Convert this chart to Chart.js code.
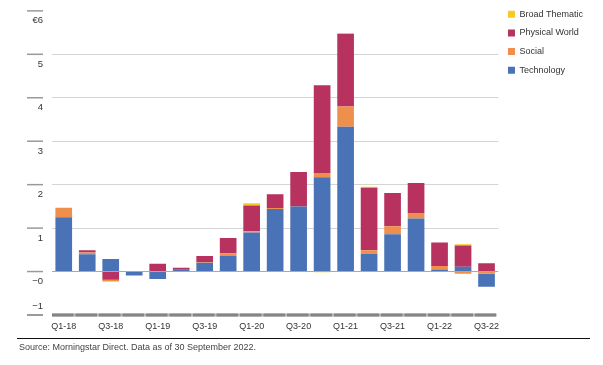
<!DOCTYPE html>
<html>
<head>
<meta charset="utf-8">
<script src="https://cdn.jsdelivr.net/npm/chart.js@4.4.0/dist/chart.umd.min.js"></script>
<style>
  body { margin: 0; background: #fff; }
  #wrap { position: relative; width: 603px; height: 365px; }
  #source {
    position: absolute; left: 17px; top: 338px; width: 571px;
    border-top: 1.5px solid #111;
    font: 9px "Liberation Sans", Arial, sans-serif; color: #444;
    padding-top: 3px; padding-left: 2px;
  }
</style>
</head>
<body>
<div id="wrap">
  <canvas id="myChart" width="603" height="365"></canvas>
  <div id="source">Source: Morningstar Direct. Data as of 30 September 2022.</div>
</div>
<script>
var quarters = ['Q1-18', 'Q2-18', 'Q3-18', 'Q4-18', 'Q1-19', 'Q2-19', 'Q3-19', 'Q4-19',
    'Q1-20', 'Q2-20', 'Q3-20', 'Q4-20', 'Q1-21', 'Q2-21', 'Q3-21', 'Q4-21',
    'Q1-22', 'Q2-22', 'Q3-22'];

var technology = [1.25, 0.40, 0.29, -0.09, -0.17, 0.04, 0.20, 0.36, 0.90, 1.44, 1.50, 2.17, 3.33, 0.41, 0.86, 1.22, 0.05, 0.11, -0.30];
var social     = [0.22, 0.04, -0.04, 0, 0, 0, 0.02, 0.06, 0.03, 0.02, 0, 0.10, 0.47, 0.08, 0.18, 0.13, 0.08, -0.05, -0.05];
var physical   = [0, 0.05, -0.19, 0, 0.18, 0.05, 0.14, 0.35, 0.59, 0.32, 0.79, 2.02, 1.67, 1.44, 0.77, 0.69, 0.54, 0.49, 0.19];
var broad      = [0, 0, 0, 0, 0, 0, 0, 0, 0.05, 0, 0, -0.015, 0.02, 0.02, 0, 0, 0, 0.03, 0];

var yTicks = [6, 5, 4, 3, 2, 1, 0, -1];
var yTickLabels = ['€6', '5', '4', '3', '2', '1', '−0', '−1'];

var colors = {
    tech: '#4a72b6',
    social: '#ef8f4c',
    physical: '#b7325e',
    broad: '#f6c927'
};

var fontFamily = '"Liberation Sans", Arial, sans-serif';

function pos(arr) { return arr.map(function (v) { return v > 0 ? v : 0; }); }
function neg(arr) { return arr.map(function (v) { return v < 0 ? v : 0; }); }

// positives stack Tech -> Social -> Physical -> Broad upward,
// negatives stack Broad -> Physical -> Social -> Tech downward (as in the source)
var datasets = [
    { label: 'Technology', data: pos(technology), backgroundColor: colors.tech },
    { label: 'Social', data: pos(social), backgroundColor: colors.social },
    { label: 'Physical World', data: pos(physical), backgroundColor: colors.physical },
    { label: 'Broad Thematic', data: pos(broad), backgroundColor: colors.broad },
    { label: 'Broad Thematic', data: neg(broad), backgroundColor: colors.broad },
    { label: 'Physical World', data: neg(physical), backgroundColor: colors.physical },
    { label: 'Social', data: neg(social), backgroundColor: colors.social },
    { label: 'Technology', data: neg(technology), backgroundColor: colors.tech }
];

// y labels sit below their gridline, tick marks are detached on the left
var yAxisDecor = {
    id: 'yAxisDecor',
    afterDraw: function (chart) {
        var ctx = chart.ctx;
        var y = chart.scales.y;
        var area = chart.chartArea;
        ctx.save();
        // bottom axis bar
        var yb = y.getPixelForValue(-1);
        ctx.lineWidth = 3;
        ctx.strokeStyle = '#b4b4b4';
        ctx.beginPath(); ctx.moveTo(area.left, yb); ctx.lineTo(area.right - 2, yb); ctx.stroke();
        ctx.setLineDash([21.5, 2]);
        ctx.strokeStyle = '#858585';
        ctx.beginPath(); ctx.moveTo(area.left, yb); ctx.lineTo(area.right - 2, yb); ctx.stroke();
        ctx.setLineDash([]);

        ctx.font = '9.5px ' + fontFamily;
        ctx.fillStyle = '#333';
        ctx.textAlign = 'right';
        ctx.textBaseline = 'middle';
        yTicks.forEach(function (v, i) {
            var py = y.getPixelForValue(v);
            ctx.strokeStyle = '#9a9a9a';
            ctx.lineWidth = v === -1 ? 2 : 1.5;
            ctx.beginPath(); ctx.moveTo(27, py); ctx.lineTo(43, py); ctx.stroke();
            var ly = v === -1 ? py - 9 : py + 10;
            ctx.fillText(yTickLabels[i], 43, ly);
        });
        ctx.restore();
    }
};

var ctx = document.getElementById('myChart').getContext('2d');
var chart = new Chart(ctx, {
    type: 'bar',
    data: {
        labels: quarters,
        datasets: datasets
    },
    options: {
        responsive: false,
        animation: false,
        devicePixelRatio: 1,
        layout: { padding: { top: 0, right: 10, bottom: 0, left: 0 } },
        datasets: {
            bar: { categoryPercentage: 1, barPercentage: 0.71, borderWidth: 0 }
        },
        scales: {
            x: {
                stacked: true,
                grid: { display: false, drawTicks: false },
                border: { display: false },
                ticks: {
                    autoSkip: false,
                    maxRotation: 0,
                    padding: 6,
                    color: '#333',
                    font: { family: fontFamily, size: 9 },
                    callback: function (val, i) { return i % 2 === 0 ? quarters[i] : ''; }
                },
                afterFit: function (s) { s.height = 50; }
            },
            y: {
                stacked: true,
                min: -1,
                max: 6.25,
                ticks: { stepSize: 1, display: false },
                border: { display: false },
                grid: {
                    drawTicks: false,
                    lineWidth: 1,
                    color: function (c) {
                        var v = c.tick.value;
                        if (v === 0) return '#a9a9a9';
                        if (v === -1 || v > 6) return 'rgba(0,0,0,0)';
                        return '#d4d4d4';
                    }
                },
                afterFit: function (s) { s.width = 52; }
            }
        },
        plugins: {
            tooltip: { enabled: false },
            legend: {
                position: 'right',
                align: 'start',
                labels: {
                    boxWidth: 7,
                    boxHeight: 7,
                    padding: 9.7,
                    color: '#333',
                    font: { family: fontFamily, size: 9 },
                    filter: function (item) { return item.datasetIndex >= 4; }
                }
            }
        },
        events: []
    },
    plugins: [yAxisDecor]
});
</script>
</body>
</html>
